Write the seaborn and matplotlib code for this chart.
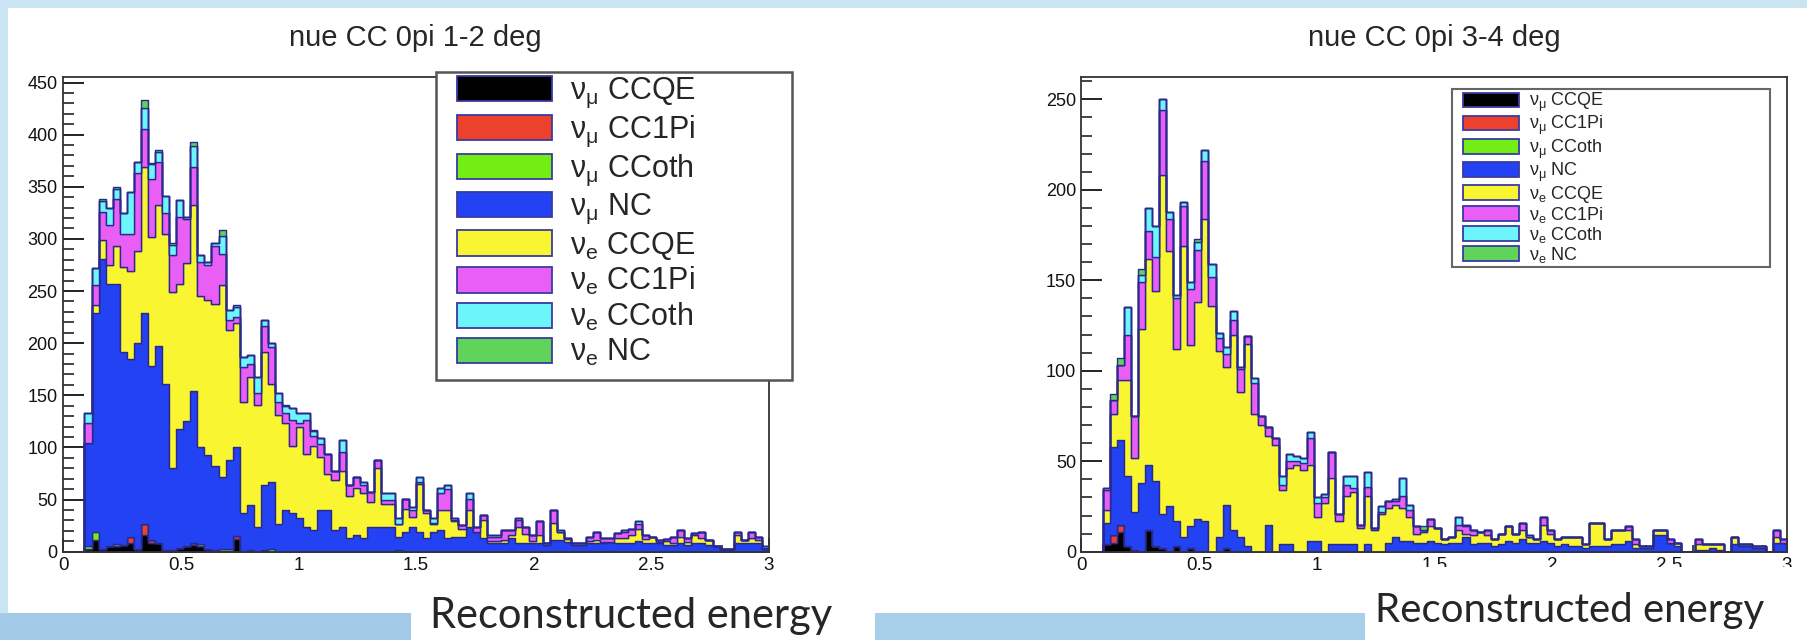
import numpy as np
import pandas as pd
import matplotlib
matplotlib.use("Agg")
import matplotlib.pyplot as plt
from matplotlib.patches import Patch, Rectangle
from matplotlib.ticker import MultipleLocator, FuncFormatter
import seaborn as sns

sns.set_style("white")
plt.rcParams['font.family'] = ['Liberation Sans', 'DejaVu Sans']
plt.rcParams['mathtext.fontset'] = 'custom'
plt.rcParams['mathtext.rm'] = 'Liberation Sans'
plt.rcParams['mathtext.it'] = 'Liberation Sans:italic'

# 100 bins of 0.03 over 0-3, data from bin 3 to bin 99
first_bin = 3
energy = (np.arange(first_bin, 100) + 0.5) * 0.03

components = ['numu_ccqe', 'numu_cc1pi', 'numu_ccoth', 'numu_nc',
              'nue_ccqe', 'nue_cc1pi', 'nue_ccoth', 'nue_nc']
labels = [r'$\mathrm{\nu}_{\mathrm{\mu}}$ CCQE', r'$\mathrm{\nu}_{\mathrm{\mu}}$ CC1Pi',
          r'$\mathrm{\nu}_{\mathrm{\mu}}$ CCoth', r'$\mathrm{\nu}_{\mathrm{\mu}}$ NC',
          r'$\mathrm{\nu}_{\mathrm{e}}$ CCQE', r'$\mathrm{\nu}_{\mathrm{e}}$ CC1Pi',
          r'$\mathrm{\nu}_{\mathrm{e}}$ CCoth', r'$\mathrm{\nu}_{\mathrm{e}}$ NC']
colors = ['#000000', '#ec412c', '#72ee14', '#2342f4',
          '#f9f531', '#e95ff5', '#6cf6fb', '#5fd35a']
outline = '#2a2a8c'

# ---- 1-2 deg: cumulative stack tops ----
left_total = [133, 272, 338, 330, 350, 325, 345, 374, 433, 373,
              385, 341, 296, 337, 321, 393, 285, 278, 296, 309,
              232, 237, 187, 189, 168, 222, 200, 152, 141, 138,
              133, 133, 117, 109, 94, 77, 107, 64, 72, 67,
              57, 88, 56, 56, 32, 51, 43, 72, 40, 32,
              61, 64, 32, 26, 56, 24, 35, 16, 16, 21,
              21, 32, 24, 16, 29, 8, 40, 21, 13, 8,
              8, 14, 19, 13, 13, 18, 21, 22, 29, 16,
              14, 11, 12, 14, 21, 13, 18, 19, 11, 5,
              3, 3, 19, 11, 19, 14, 5]
left_magenta_top = [123, 256, 326, 313, 338, 305, 305, 363, 405, 357,
                    374, 325, 285, 321, 319, 369, 278, 275, 293, 286,
                    222, 225, 177, 180, 152, 216, 196, 144, 133, 126,
                    123, 126, 111, 103, 94, 77, 96, 64, 72, 64,
                    57, 88, 50, 50, 27, 51, 40, 67, 40, 28,
                    56, 60, 30, 26, 51, 24, 35, 14, 14, 21,
                    21, 30, 24, 16, 29, 8, 40, 19, 13, 8,
                    8, 14, 19, 13, 13, 18, 19, 22, 27, 16,
                    14, 11, 12, 14, 21, 13, 18, 19, 11, 5,
                    3, 3, 19, 11, 19, 14, 4]
left_yellow_top = [104, 237, 299, 275, 293, 273, 269, 288, 369, 302,
                   333, 305, 249, 257, 277, 333, 245, 241, 238, 256,
                   213, 219, 144, 168, 141, 192, 161, 131, 123, 101,
                   120, 94, 101, 91, 75, 69, 77, 53, 61, 56,
                   48, 80, 46, 46, 27, 41, 33, 65, 37, 27,
                   40, 40, 29, 22, 40, 19, 30, 10, 10, 11,
                   16, 24, 17, 10, 16, 8, 28, 19, 12, 8,
                   8, 10, 11, 9, 9, 13, 13, 16, 22, 12,
                   14, 9, 10, 8, 14, 9, 16, 13, 11, 5,
                   3, 3, 16, 11, 13, 11, 3]
left_blue_top = [104, 229, 281, 257, 257, 192, 185, 200, 229, 178,
                 197, 161, 80, 118, 125, 154, 100, 93, 82, 72,
                 88, 100, 37, 45, 24, 64, 67, 27, 40, 37,
                 32, 24, 21, 40, 40, 21, 24, 13, 16, 13,
                 24, 24, 24, 24, 14, 19, 24, 19, 13, 19,
                 21, 13, 14, 14, 24, 19, 13, 8, 8, 8,
                 13, 8, 8, 8, 8, 6, 11, 11, 9, 6,
                 6, 8, 8, 8, 9, 8, 8, 8, 10, 8,
                 8, 8, 6, 6, 8, 6, 8, 8, 6, 5,
                 3, 3, 8, 8, 8, 8, 3]
left_nue_nc = {5: 2, 7: 2, 11: 7, 12: 1, 13: 2, 15: 2, 18: 4, 22: 6, 24: 2, 31: 1, 35: 1}
left_numu_ccqe = {3: 3, 4: 11, 5: 3, 6: 5, 7: 5, 8: 6, 9: 8, 10: 3, 11: 16, 12: 8, 13: 8,
                  14: 2, 15: 2, 16: 4, 17: 5, 18: 6, 19: 5, 20: 3, 21: 2, 22: 1, 23: 1,
                  24: 12, 26: 2, 28: 2}
left_numu_cc1pi = {9: 6, 11: 11, 12: 3, 18: 2, 24: 3}
left_numu_ccoth = {3: 2, 4: 8, 7: 2, 19: 2, 22: 2, 23: 2, 29: 3, 47: 2}

# ---- 3-4 deg ----
right_total = [35, 87, 107, 135, 75, 156, 190, 180, 250, 188,
               142, 193, 149, 173, 222, 159, 121, 113, 133, 102,
               119, 96, 75, 69, 63, 42, 54, 53, 52, 66,
               30, 32, 55, 21, 42, 42, 15, 44, 13, 25,
               28, 29, 41, 26, 14, 14, 18, 13, 7, 8,
               19, 15, 12, 11, 12, 7, 10, 14, 10, 16,
               9, 7, 19, 12, 7, 8, 8, 8, 4, 16,
               16, 7, 12, 12, 14, 7, 3, 3, 12, 12,
               7, 5, 0, 0, 7, 4, 4, 4, 0, 8,
               4, 4, 3, 3, 0, 12, 7]
right_magenta_top = [34, 84, 103, 120, 75, 149, 177, 163, 244, 184,
                     140, 191, 145, 167, 216, 152, 118, 109, 128, 101,
                     119, 93, 75, 69, 63, 37, 50, 50, 49, 63,
                     27, 30, 55, 21, 37, 35, 15, 36, 13, 22,
                     28, 28, 31, 23, 14, 12, 18, 13, 7, 8,
                     15, 14, 12, 11, 12, 7, 10, 14, 10, 16,
                     8, 7, 19, 12, 7, 8, 8, 8, 4, 16,
                     16, 7, 12, 12, 14, 7, 3, 3, 12, 12,
                     7, 5, 0, 0, 7, 4, 4, 4, 0, 8,
                     4, 4, 3, 3, 0, 12, 7]
right_yellow_top = [23, 76, 95, 95, 52, 123, 162, 144, 208, 166,
                    112, 169, 114, 138, 184, 136, 111, 102, 120, 88,
                    115, 76, 70, 64, 59, 34, 46, 48, 45, 48,
                    19, 27, 41, 17, 31, 33, 13, 31, 12, 21,
                    24, 26, 24, 19, 10, 11, 14, 13, 7, 8,
                    12, 10, 9, 11, 9, 7, 10, 14, 10, 12,
                    8, 7, 15, 10, 7, 8, 8, 8, 4, 16,
                    16, 7, 12, 12, 12, 4, 3, 3, 12, 12,
                    5, 5, 0, 0, 4, 4, 4, 4, 0, 8,
                    4, 4, 3, 3, 0, 8, 5]
right_blue_top = [16, 58, 62, 42, 22, 38, 48, 39, 21, 25,
                  17, 8, 14, 18, 17, 0, 8, 26, 12, 8,
                  3, 0, 0, 15, 0, 4, 4, 0, 0, 6,
                  6, 0, 4, 4, 4, 4, 0, 4, 0, 0,
                  5, 8, 6, 6, 5, 5, 6, 5, 4, 5,
                  5, 8, 4, 5, 5, 3, 4, 6, 5, 7,
                  5, 5, 6, 5, 3, 4, 3, 3, 2, 3,
                  3, 3, 4, 4, 6, 2, 2, 2, 9, 9,
                  5, 3, 0, 0, 1, 1, 2, 1, 0, 4,
                  3, 3, 2, 2, 0, 5, 5]
right_nue_nc = {4: 3, 5: 4, 8: 3, 16: 2, 48: 2}
right_numu_ccqe = {3: 4, 4: 5, 5: 11, 6: 3, 7: 1, 9: 12, 10: 3, 11: 2, 13: 3, 15: 2, 20: 2}
right_numu_cc1pi = {4: 4, 5: 4}
right_numu_ccoth = {}


def sparse(d):
    arr = np.zeros(len(energy))
    for b, v in d.items():
        arr[b - first_bin] = v
    return arr


def stack_frame(total, mag_top, yel_top, blue_top, nue_nc, mu_qe, mu_1pi, mu_oth):
    total, mag_top, yel_top, blue_top = map(np.asarray, (total, mag_top, yel_top, blue_top))
    nue_nc, mu_qe, mu_1pi, mu_oth = map(sparse, (nue_nc, mu_qe, mu_1pi, mu_oth))
    counts = {
        'numu_ccqe': mu_qe,
        'numu_cc1pi': mu_1pi,
        'numu_ccoth': mu_oth,
        'numu_nc': blue_top - mu_qe - mu_1pi - mu_oth,
        'nue_ccqe': yel_top - blue_top,
        'nue_cc1pi': mag_top - yel_top,
        'nue_ccoth': total - nue_nc - mag_top,
        'nue_nc': nue_nc,
    }
    return pd.concat([pd.DataFrame({'energy': energy, 'count': np.clip(v, 0, None), 'component': k})
                      for k, v in counts.items()], ignore_index=True)


left_df = stack_frame(left_total, left_magenta_top, left_yellow_top, left_blue_top,
                      left_nue_nc, left_numu_ccqe, left_numu_cc1pi, left_numu_ccoth)
right_df = stack_frame(right_total, right_magenta_top, right_yellow_top, right_blue_top,
                       right_nue_nc, right_numu_ccqe, right_numu_cc1pi, right_numu_ccoth)

W, H = 1808, 640
fig = plt.figure(figsize=(W / 100, H / 100), dpi=100)
fig.patch.set_facecolor('#cbe4f2')


def fig_rect(x0, y0, x1, y1, color, z=-5):
    fig.patches.append(Rectangle((x0 / W, 1 - y1 / H), (x1 - x0) / W, (y1 - y0) / H,
                                 transform=fig.transFigure, facecolor=color,
                                 edgecolor='none', zorder=z))


# slide background
fig_rect(8, 8, 1808, 613, 'white')
fig_rect(0, 613, 411, 640, '#a3cbe7')
fig_rect(411, 613, 875, 640, 'white')
fig_rect(875, 613, 1365, 640, '#a8cfe9')
fig_rect(1365, 613, 1808, 640, 'white')

ax1 = fig.add_axes([63.3 / W, 1 - 551.7 / H, 705.7 / W, (551.7 - 77.3) / H])
ax2 = fig.add_axes([1081.5 / W, 1 - 551.7 / H, 705.5 / W, (551.7 - 76.7) / H])

palette = dict(zip(components, colors))
stack_order = components[::-1]  # last level ends up at the bottom of the stack

for ax, df, ymax in [(ax1, left_df, 455), (ax2, right_df, 262.5)]:
    sns.histplot(data=df, x='energy', weights='count', hue='component',
                 hue_order=stack_order, palette=palette, multiple='stack',
                 bins=100, binrange=(0, 3), element='step', fill=True, alpha=1,
                 edgecolor=outline, linewidth=1.0, legend=False, ax=ax)
    ax.set_xlim(0, 3)
    ax.set_ylim(0, ymax)
    ax.set_xlabel('')
    ax.set_ylabel('')
    ax.set_facecolor('white')
    ax.xaxis.set_major_locator(MultipleLocator(0.5))
    ax.xaxis.set_minor_locator(MultipleLocator(0.1))
    ax.yaxis.set_major_locator(MultipleLocator(50))
    ax.yaxis.set_minor_locator(MultipleLocator(10))
    ax.xaxis.set_major_formatter(FuncFormatter(lambda v, p: f'{v:g}'))
    ax.tick_params(axis='y', which='major', direction='in', length=15, width=1.3,
                   labelsize=13, pad=4, left=True, right=False, colors='#111')
    ax.tick_params(axis='y', which='minor', direction='in', length=8, width=1.1,
                   left=True, right=False, colors='#111')
    ax.tick_params(axis='x', which='major', direction='in', length=10, width=1.3,
                   labelsize=13.5, pad=4, bottom=True, top=False, colors='#111')
    ax.tick_params(axis='x', which='minor', direction='in', length=5, width=1.1,
                   bottom=True, top=False, colors='#111')
    for sp in ax.spines.values():
        sp.set_linewidth(1.3)
        sp.set_color('#333333')

handles = [Patch(facecolor=c, edgecolor='#3a3aa0', linewidth=1.3) for c in colors]

# left legend: box drawn as patch, entries frameless on top
ax1.add_patch(Rectangle((436 / W, 1 - 380 / H), (792 - 436) / W, (380 - 72) / H,
                        transform=fig.transFigure, facecolor='white', edgecolor='#555555',
                        linewidth=1.8, clip_on=False, zorder=4))
leg1 = ax1.legend(handles, labels, loc='upper left', bbox_to_anchor=(457 / W, 1 - 76 / H),
                  bbox_transform=fig.transFigure, frameon=False, fontsize=22,
                  borderpad=0, borderaxespad=0, handlelength=3.1, handleheight=0.9,
                  handletextpad=0.6, labelspacing=0.12)
leg1.set_zorder(6)

ax2.add_patch(Rectangle((1452 / W, 1 - 267 / H), (1770 - 1452) / W, (267 - 89) / H,
                        transform=fig.transFigure, facecolor='white', edgecolor='#666666',
                        linewidth=1.5, clip_on=False, zorder=4))
leg2 = ax2.legend(handles, labels, loc='upper left', bbox_to_anchor=(1463 / W, 1 - 91 / H),
                  bbox_transform=fig.transFigure, frameon=False, fontsize=13,
                  borderpad=0, borderaxespad=0, handlelength=3.1, handleheight=0.85,
                  handletextpad=0.55, labelspacing=0.0)
leg2.set_zorder(6)

# titles
fig.text(415 / W, 1 - 38 / H, 'nue CC 0pi 1-2 deg', ha='center', va='center', fontsize=21)
fig.text(1434 / W, 1 - 38 / H, 'nue CC 0pi 3-4 deg', ha='center', va='center', fontsize=21)

# text box of the slide hides the lower part of the right tick labels
fig_rect(1365, 567, 1808, 613, 'white', z=5)

fig.text(631 / W, 1 - 628 / H, 'Reconstructed energy', ha='center', va='baseline',
         fontsize=30, family='Lato', zorder=10)
fig.text(1570 / W, 1 - 622 / H, 'Reconstructed energy', ha='center', va='baseline',
         fontsize=29, family='Lato', zorder=10)

fig.savefig('out.png', dpi=100, facecolor=fig.get_facecolor())
